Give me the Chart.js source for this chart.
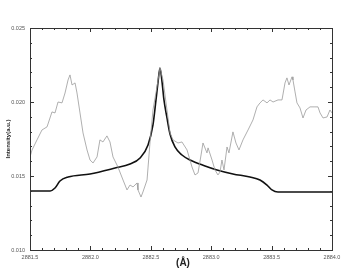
<!DOCTYPE html>
<html>
<head>
<meta charset="utf-8">
<script src="https://cdn.jsdelivr.net/npm/chart.js@4/dist/chart.umd.min.js"></script>
<style>
  html, body { margin: 0; padding: 0; background: #fff; }
  #chart { display: block; }
</style>
</head>
<body>
<canvas id="chart" width="353" height="270"></canvas>
<script>
// measured spectrum (thin grey line)
const expWave = [2881.500, 2881.517, 2881.558, 2881.599, 2881.641, 2881.682, 2881.707, 2881.732, 2881.765, 2881.790,
    2881.815, 2881.831, 2881.848, 2881.873, 2881.889, 2881.914, 2881.939, 2881.972, 2881.997, 2882.022,
    2882.055, 2882.079, 2882.104, 2882.137, 2882.162, 2882.187, 2882.228, 2882.270, 2882.303, 2882.328,
    2882.353, 2882.386, 2882.394, 2882.419, 2882.435, 2882.469, 2882.493, 2882.518, 2882.551, 2882.576,
    2882.601, 2882.634, 2882.659, 2882.684, 2882.725, 2882.758, 2882.800, 2882.841, 2882.866, 2882.891,
    2882.916, 2882.932, 2882.965, 2882.974, 2883.007, 2883.031, 2883.056, 2883.073, 2883.089, 2883.106,
    2883.131, 2883.147, 2883.180, 2883.205, 2883.230, 2883.263, 2883.305, 2883.346, 2883.379, 2883.404,
    2883.429, 2883.462, 2883.487, 2883.512, 2883.553, 2883.586, 2883.611, 2883.627, 2883.644, 2883.669,
    2883.677, 2883.694, 2883.710, 2883.735, 2883.760, 2883.785, 2883.818, 2883.859, 2883.884, 2883.901,
    2883.926, 2883.959, 2883.983, 2884.000];
const expInt = [0.01629, 0.01676, 0.01744, 0.01811, 0.01832, 0.01933, 0.01926, 0.02000, 0.01994, 0.02061,
    0.02149, 0.02183, 0.02115, 0.02129, 0.02061, 0.01926, 0.01791, 0.01676, 0.01608, 0.01588,
    0.01629, 0.01744, 0.01730, 0.01771, 0.01730, 0.01629, 0.01561, 0.01473, 0.01406, 0.01439,
    0.01426, 0.01453, 0.01406, 0.01358, 0.01392, 0.01473, 0.01723, 0.01946, 0.02102, 0.02230,
    0.02149, 0.01946, 0.01791, 0.01744, 0.01723, 0.01730, 0.01676, 0.01561, 0.01507, 0.01521,
    0.01642, 0.01723, 0.01656, 0.01690, 0.01608, 0.01541, 0.01507, 0.01527, 0.01608, 0.01541,
    0.01696, 0.01656, 0.01798, 0.01723, 0.01676, 0.01744, 0.01811, 0.01879, 0.01967, 0.01994,
    0.02014, 0.01994, 0.02014, 0.02000, 0.02014, 0.02014, 0.02129, 0.02163, 0.02115, 0.02170,
    0.02149, 0.02068, 0.01994, 0.01960, 0.01892, 0.01946, 0.01967, 0.01967, 0.01967, 0.01926,
    0.01892, 0.01899, 0.01946, 0.01926];

// fitted profile (bold black line)
const fitWave = [2881.500, 2881.666, 2881.707, 2881.748, 2881.815, 2881.997, 2882.204, 2882.328, 2882.411, 2882.477,
    2882.518, 2882.543, 2882.560, 2882.576, 2882.593, 2882.609, 2882.634, 2882.659, 2882.700, 2882.758,
    2882.825, 2882.949, 2883.048, 2883.180, 2883.321, 2883.404, 2883.462, 2883.503, 2883.553, 2884.000];
const fitInt = [0.01399, 0.01399, 0.01419, 0.01466, 0.01493, 0.01514, 0.01554, 0.01581, 0.01622, 0.01710,
    0.01845, 0.02014, 0.02136, 0.02230, 0.02136, 0.02014, 0.01892, 0.01784, 0.01696, 0.01642,
    0.01608, 0.01568, 0.01541, 0.01514, 0.01493, 0.01473, 0.01439, 0.01406, 0.01392, 0.01392];

// axis ticks
const xTicks = [2881.5, 2882.0, 2882.5, 2883.0, 2883.5, 2884.0];
const yTicks = [0.010, 0.015, 0.020, 0.025];
const xMinorStep = 0.1;
const yMinorStep = 0.001;

const toPoints = (xs, ys) => xs.map((x, i) => ({ x: x, y: ys[i] }));

// frame, inward ticks and axis titles
const framePlugin = {
    id: 'frame',
    afterDraw(chart) {
        const ctx = chart.ctx;
        const a = chart.chartArea;
        const xs = chart.scales.x;
        const ys = chart.scales.y;
        ctx.save();
        ctx.strokeStyle = '#333';
        ctx.lineWidth = 1;
        ctx.strokeRect(a.left + 0.5, a.top + 0.5, a.right - a.left, a.bottom - a.top);

        ctx.beginPath();
        const nx = Math.round((xTicks[xTicks.length - 1] - xTicks[0]) / xMinorStep);
        for (let i = 0; i <= nx; i++) {
            const v = xTicks[0] + i * xMinorStep;
            const px = Math.round(xs.getPixelForValue(v)) + 0.5;
            const len = (i % 5 === 0) ? 4 : 2;
            ctx.moveTo(px, a.bottom); ctx.lineTo(px, a.bottom - len);
            ctx.moveTo(px, a.top); ctx.lineTo(px, a.top + len);
        }
        const ny = Math.round((yTicks[yTicks.length - 1] - yTicks[0]) / yMinorStep);
        for (let i = 0; i <= ny; i++) {
            const v = yTicks[0] + i * yMinorStep;
            const py = Math.round(ys.getPixelForValue(v)) + 0.5;
            const len = (i % 5 === 0) ? 4 : 2;
            ctx.moveTo(a.left, py); ctx.lineTo(a.left + len, py);
            ctx.moveTo(a.right, py); ctx.lineTo(a.right - len, py);
        }
        ctx.stroke();

        // y title
        ctx.fillStyle = '#222';
        ctx.font = 'bold 6px "Liberation Sans", Arial, sans-serif';
        ctx.textAlign = 'center';
        ctx.textBaseline = 'middle';
        ctx.save();
        ctx.translate(8, (a.top + a.bottom) / 2);
        ctx.rotate(-Math.PI / 2);
        ctx.fillText('Intensity(a.u.)', 0, 0);
        ctx.restore();

        // x title
        ctx.font = 'bold 10px "Liberation Sans", Arial, sans-serif';
        ctx.fillText('(Å)', (a.left + a.right) / 2 + 2, 263);
        ctx.restore();
    }
};

const ctx = document.getElementById('chart').getContext('2d');
new Chart(ctx, {
    type: 'line',
    data: {
        datasets: [
            {
                label: 'experiment',
                data: toPoints(expWave, expInt),
                borderColor: '#9a9a9a',
                borderWidth: 0.8,
                pointRadius: 0,
                tension: 0
            },
            {
                label: 'fit',
                data: toPoints(fitWave, fitInt),
                borderColor: '#111',
                borderWidth: 1.6,
                pointRadius: 0,
                cubicInterpolationMode: 'monotone'
            }
        ]
    },
    options: {
        responsive: false,
        animation: false,
        layout: { padding: { top: 28, right: 21, left: 0, bottom: 0 } },
        plugins: { legend: { display: false }, tooltip: { enabled: false } },
        scales: {
            x: {
                type: 'linear',
                min: xTicks[0],
                max: xTicks[xTicks.length - 1],
                grid: { display: false, drawTicks: false },
                border: { display: false },
                afterBuildTicks: s => { s.ticks = xTicks.map(v => ({ value: v })); },
                afterFit: s => { s.height = 20; },
                ticks: {
                    padding: 4,
                    maxRotation: 0,
                    color: '#555',
                    font: { size: 5.5, family: '"Liberation Sans", Arial, sans-serif' },
                    callback: v => v.toFixed(1)
                }
            },
            y: {
                type: 'linear',
                min: yTicks[0],
                max: yTicks[yTicks.length - 1],
                grid: { display: false, drawTicks: false },
                border: { display: false },
                afterBuildTicks: s => { s.ticks = yTicks.map(v => ({ value: v })); },
                afterFit: s => { s.width = 30; },
                ticks: {
                    padding: 5,
                    color: '#555',
                    font: { size: 5.5, family: '"Liberation Sans", Arial, sans-serif' },
                    callback: v => v.toFixed(3)
                }
            }
        }
    },
    plugins: [framePlugin]
});
</script>
</body>
</html>
